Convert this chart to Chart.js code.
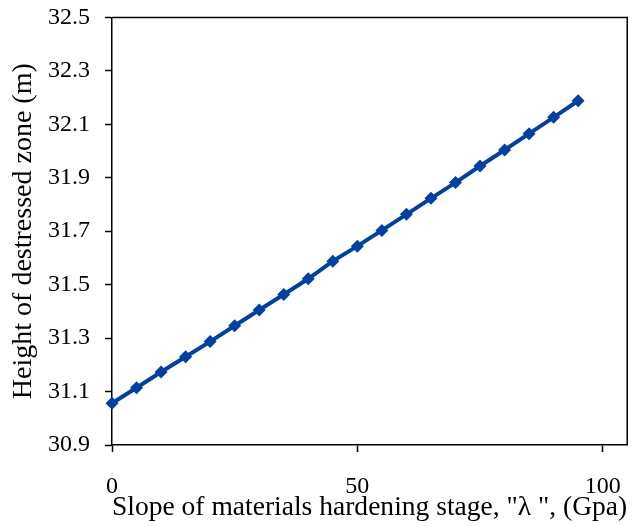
<!DOCTYPE html>
<html>
<head>
<meta charset="utf-8">
<script src="https://cdn.jsdelivr.net/npm/chart.js@4/dist/chart.umd.min.js"></script>
<style>
html,body{margin:0;padding:0;background:#fff;}
#wrap{width:639px;height:526px;position:relative;}
</style>
</head>
<body>
<div id="wrap"><canvas id="c" width="639" height="526"></canvas></div>
<script>
const xValues = [0,5,10,15,20,25,30,35,40,45,50,55,60,65,70,75,80,85,90,95];
const heightValues = [31.056,31.114,31.173,31.230,31.287,31.346,31.405,31.463,31.522,31.588,31.644,31.703,31.763,31.823,31.882,31.944,32.004,32.065,32.126,32.188];
const xTicks = [0,50,100];
const yTicks = [30.9,31.1,31.3,31.5,31.7,31.9,32.1,32.3,32.5];
const xTitle = 'Slope of materials hardening stage, "λ ", (Gpa)';
const yTitle = 'Height of destressed zone (m)';

const fontFamily = '"Liberation Serif", "Times New Roman", serif';
const blue = '#0040a0';

const frame = {
  id: 'frame',
  afterDraw(chart) {
    const a = chart.chartArea, ctx = chart.ctx;
    ctx.save();
    ctx.strokeStyle = '#000';
    ctx.lineWidth = 1.5;
    ctx.beginPath();
    ctx.moveTo(a.left, a.top);
    ctx.lineTo(a.right, a.top);
    ctx.lineTo(a.right, a.bottom);
    ctx.stroke();
    ctx.restore();
  }
};

new Chart(document.getElementById('c'), {
  type: 'line',
  data: {
    datasets: [{
      data: xValues.map((x, i) => ({x: x, y: heightValues[i]})),
      borderColor: blue,
      backgroundColor: blue,
      borderWidth: 4,
      pointStyle: 'rectRot',
      pointRadius: 6.5,
      pointBorderWidth: 0,
      pointBackgroundColor: blue,
      tension: 0,
      clip: false
    }]
  },
  options: {
    responsive: false,
    animation: false,
    layout: {padding: {left: 7, right: 0, top: 0, bottom: 2}},
    plugins: {legend: {display: false}, tooltip: {enabled: false}},
    scales: {
      x: {
        type: 'linear',
        min: 0, max: 105,
        afterBuildTicks: s => { s.ticks = xTicks.map(v => ({value: v})); },
        grid: {drawOnChartArea: false, color: '#000', tickLength: 7, tickWidth: 1.5},
        border: {color: '#000', width: 1.5},
        ticks: {color: '#000', font: {family: fontFamily, size: 24, lineHeight: 1.375}, padding: 18, maxRotation: 0,
          callback: v => String(v)},
        title: {display: true, text: xTitle, color: '#000', font: {family: fontFamily, size: 28}, padding: {top: -30.6, bottom: 0}}
      },
      y: {
        type: 'linear',
        min: 30.9, max: 32.5,
        afterBuildTicks: s => { s.ticks = yTicks.map(v => ({value: v})); },
        grid: {drawOnChartArea: false, color: '#000', tickLength: 7, tickWidth: 1.5},
        border: {color: '#000', width: 1.5},
        ticks: {color: '#000', font: {family: fontFamily, size: 24, lineHeight: 0.2}, padding: 15,
          callback: v => Number(v).toFixed(1)},
        title: {display: true, text: yTitle, color: '#000', font: {family: fontFamily, size: 28}, padding: {top: 0, bottom: -7.6}}
      }
    }
  },
  plugins: [frame]
});
</script>
</body>
</html>
